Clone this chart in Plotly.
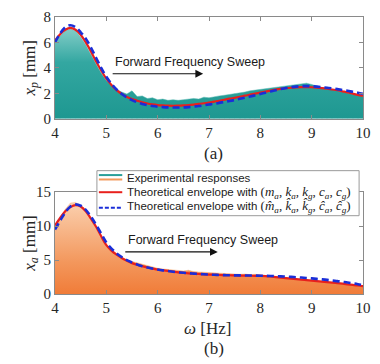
import plotly.graph_objects as go

freq = [round(4.0 + 0.1 * i, 1) for i in range(61)]

# (a) x_p [mm]
xp_exp = [6.0, 6.5, 6.9, 7.05, 6.9, 6.4, 5.8, 5.0, 4.3, 3.6,
          3.0, 2.6, 2.3, 2.1, 1.95, 2.2, 1.75, 1.8, 1.6, 1.65,
          1.5, 1.55, 1.45, 1.5, 1.45, 1.5, 1.55, 1.6, 1.55, 1.7,
          1.65, 1.75, 1.8, 1.85, 1.9, 2.0, 2.05, 2.1, 2.2, 2.25,
          2.3, 2.35, 2.4, 2.45, 2.5, 2.55, 2.6, 2.65, 2.75, 2.8,
          2.7, 2.55, 2.45, 2.4, 2.3, 2.25, 2.15, 2.05, 1.95, 1.85, 1.75]
xp_theo = [6.15, 6.65, 7.0, 7.15, 7.0, 6.6, 6.0, 5.3, 4.5, 3.8,
           3.15, 2.65, 2.25, 1.95, 1.72, 1.55, 1.42, 1.3, 1.2, 1.13,
           1.08, 1.05, 1.03, 1.02, 1.03, 1.05, 1.08, 1.12, 1.17, 1.22,
           1.28, 1.35, 1.42, 1.5, 1.58, 1.65, 1.73, 1.82, 1.9, 1.98,
           2.06, 2.14, 2.22, 2.29, 2.35, 2.4, 2.44, 2.47, 2.49, 2.49,
           2.48, 2.45, 2.41, 2.36, 2.3, 2.24, 2.16, 2.08, 1.98, 1.88, 1.79]
xp_theo_hat = [6.0, 6.7, 7.2, 7.35, 7.2, 6.8, 6.3, 5.6, 4.8, 4.0,
               3.3, 2.75, 2.3, 1.95, 1.68, 1.47, 1.3, 1.17, 1.07, 1.0,
               0.95, 0.92, 0.9, 0.89, 0.89, 0.9, 0.92, 0.96, 1.0, 1.06,
               1.12, 1.18, 1.25, 1.33, 1.4, 1.48, 1.57, 1.66, 1.75, 1.85,
               1.95, 2.05, 2.15, 2.25, 2.34, 2.42, 2.48, 2.53, 2.56, 2.57,
               2.56, 2.53, 2.49, 2.44, 2.39, 2.33, 2.26, 2.2, 2.12, 2.05, 1.97]

# (b) x_a [mm]
xa_exp = [9.8, 11.2, 12.5, 13.4, 13.5, 13.0, 12.1, 11.0, 9.7, 8.3,
          7.0, 6.3, 5.8, 5.4, 5.0, 4.8, 4.5, 4.3, 4.1, 4.0,
          3.8, 3.7, 3.6, 3.5, 3.45, 3.4, 3.5, 3.3, 3.25, 3.2,
          3.15, 3.1, 3.1, 3.0, 3.05, 2.95, 2.9, 2.95, 2.85, 2.9,
          2.8, 2.75, 2.65, 2.55, 2.45, 2.4, 2.3, 2.2, 2.15, 2.05,
          2.0, 1.9, 1.85, 1.75, 1.7, 1.6, 1.5, 1.45, 1.35, 1.25, 1.15]
xa_theo = [10.1, 11.2, 12.2, 12.8, 13.1, 12.9, 12.2, 11.1, 9.9, 8.5,
           7.2, 6.4, 5.8, 5.3, 4.9, 4.55, 4.3, 4.1, 3.9, 3.75,
           3.6, 3.5, 3.4, 3.3, 3.2, 3.12, 3.05, 3.0, 2.95, 2.9,
           2.86, 2.83, 2.8, 2.78, 2.76, 2.74, 2.72, 2.7, 2.69, 2.68,
           2.66, 2.63, 2.58, 2.5, 2.42, 2.35, 2.27, 2.2, 2.12, 2.05,
           1.98, 1.9, 1.83, 1.75, 1.68, 1.6, 1.52, 1.43, 1.34, 1.25, 1.15]
xa_theo_hat = [9.5, 10.8, 12.0, 12.9, 13.2, 13.0, 12.4, 11.4, 10.2, 8.9,
               7.6, 6.7, 6.0, 5.45, 5.0, 4.65, 4.35, 4.1, 3.9, 3.75,
               3.6, 3.48, 3.38, 3.28, 3.2, 3.12, 3.05, 3.0, 2.95, 2.9,
               2.86, 2.83, 2.8, 2.78, 2.76, 2.75, 2.74, 2.73, 2.72, 2.71,
               2.7, 2.68, 2.66, 2.63, 2.6, 2.56, 2.52, 2.47, 2.42, 2.36,
               2.3, 2.23, 2.16, 2.08, 1.98, 1.9, 1.8, 1.7, 1.58, 1.45, 1.3]

x_ticks = [4, 5, 6, 7, 8, 9, 10]
xp_ticks = [0, 2, 4, 6, 8]
xa_ticks = [0, 5, 10, 15]

W, H = 380, 364
L, R, T, B = 55, 9, 11, 70
PW, PH = W - L - R, H - T - B


def px(xp):
    return (xp - L) / PW


def py(yp):
    return (H - B - yp) / PH


fig = go.Figure()

RED = "#e8201c"
BLUE = "#1a2ed8"

# panel (a)
fig.add_trace(go.Scatter(x=freq, y=xp_exp, mode="lines", line=dict(width=0.5, color="#5cbab5"),
                         fill="tozeroy",
                         fillgradient=dict(type="vertical", start=0, stop=7.5,
                                           colorscale=[[0, "#1d9790"], [0.6, "#33a7a1"], [1, "#8fd2cd"]]),
                         xaxis="x", yaxis="y", showlegend=False))
fig.add_trace(go.Bar(x=freq, y=xp_exp, width=0.03, marker=dict(color="rgba(200,238,235,0.45)", line=dict(width=0)),
                     xaxis="x", yaxis="y", showlegend=False))
fig.add_trace(go.Scatter(x=freq, y=xp_theo, mode="lines", line=dict(color=RED, width=2.2, shape="spline"),
                         xaxis="x", yaxis="y", showlegend=False))
fig.add_trace(go.Scatter(x=freq, y=xp_theo_hat, mode="lines",
                         line=dict(color=BLUE, width=2.6, dash="7px,4px", shape="spline"),
                         xaxis="x", yaxis="y", showlegend=False))

# panel (b)
fig.add_trace(go.Scatter(x=freq, y=xa_exp, mode="lines", line=dict(width=0.5, color="#f6b889"),
                         fill="tozeroy",
                         fillgradient=dict(type="vertical", start=0, stop=14,
                                           colorscale=[[0, "#f07a36"], [0.35, "#f3975c"], [1, "#fbd3b3"]]),
                         xaxis="x2", yaxis="y2", showlegend=False))
fig.add_trace(go.Bar(x=freq, y=xa_exp, width=0.03, marker=dict(color="rgba(255,235,215,0.45)", line=dict(width=0)),
                     xaxis="x2", yaxis="y2", showlegend=False))
fig.add_trace(go.Scatter(x=freq, y=xa_theo, mode="lines", line=dict(color=RED, width=2.2, shape="spline"),
                         xaxis="x2", yaxis="y2", showlegend=False))
fig.add_trace(go.Scatter(x=freq, y=xa_theo_hat, mode="lines",
                         line=dict(color=BLUE, width=2.6, dash="7px,4px", shape="spline"),
                         xaxis="x2", yaxis="y2", showlegend=False))

serif = "Liberation Serif, Times New Roman, serif"
sans = "Liberation Sans, Arial, sans-serif"

axis_common = dict(showline=True, mirror="allticks", linecolor="#8a8a8a", linewidth=1,
                   ticks="inside", ticklen=4, tickcolor="#8a8a8a", showgrid=False, zeroline=False,
                   tickfont=dict(family=serif, size=15, color="#262626"))

top_dom = [(H - B - 115) / PH, 1]
bot_dom = [0, (H - B - 190) / PH]

fig.update_layout(
    width=W, height=H, margin=dict(l=L, r=R, t=T, b=B),
    paper_bgcolor="white", plot_bgcolor="white", barmode="overlay", bargap=0,
    xaxis=dict(range=[4, 10], tickvals=x_ticks, domain=[0, 1], anchor="y", **axis_common),
    yaxis=dict(range=[0, 8], tickvals=xp_ticks, domain=top_dom, anchor="x", **axis_common),
    xaxis2=dict(range=[4, 10], tickvals=x_ticks, domain=[0, 1], anchor="y2", **axis_common),
    yaxis2=dict(range=[0, 15], tickvals=xa_ticks, domain=bot_dom, anchor="x2", **axis_common),
)

ann = []


def label(text, x, y, size=17, angle=0):
    ann.append(dict(text=text, xref="paper", yref="paper", x=px(x), y=py(y), xanchor="center",
                    yanchor="middle", textangle=angle, showarrow=False,
                    font=dict(family=serif, size=size, color="#262626")))


label("<i>x</i><sub><i>p</i></sub> [mm]", 30, 63, angle=-90)
label("<i>x</i><sub><i>a</i></sub> [mm]", 30, 242, angle=-90)
label("(a)", 218, 150)
label("<i>ω</i> [Hz]", 211, 329)
label("(b)", 218, 350)

# Forward Frequency Sweep labels + arrows
for (tx, ty, ax0, ax1, ay) in [(114, 57, 115, 207, 69), (128, 239, 128, 222, 251)]:
    ann.append(dict(text="Forward Frequency Sweep", xref="paper", yref="paper", x=px(tx), y=py(ty),
                    xanchor="left", yanchor="middle", showarrow=False,
                    font=dict(family=sans, size=12.5, color="#1a1a1a")))
    ann.append(dict(text="", xref="paper", yref="paper", x=px(ax1), y=py(ay), ax=-(ax1 - ax0), ay=0,
                    axref="pixel", ayref="pixel", showarrow=True, arrowhead=2, arrowsize=1.3,
                    arrowwidth=1.2, arrowcolor="#111111"))

# manual legend
shapes = []
shapes.append(dict(type="rect", xref="paper", yref="paper", x0=px(98), x1=px(367), y0=py(214), y1=py(168),
                   line=dict(color="#9a9a9a", width=1), fillcolor="white", layer="above"))
shapes.append(dict(type="line", xref="paper", yref="paper", x0=px(100), x1=px(124), y0=py(172.5), y1=py(172.5),
                   line=dict(color="#2a9f99", width=2), layer="above"))
shapes.append(dict(type="line", xref="paper", yref="paper", x0=px(100), x1=px(124), y0=py(177), y1=py(177),
                   line=dict(color="#f39a5c", width=2), layer="above"))
shapes.append(dict(type="line", xref="paper", yref="paper", x0=px(100), x1=px(124), y0=py(190), y1=py(190),
                   line=dict(color=RED, width=2), layer="above"))
shapes.append(dict(type="line", xref="paper", yref="paper", x0=px(100), x1=px(124), y0=py(206), y1=py(206),
                   line=dict(color=BLUE, width=2, dash="4px,2px"), layer="above"))

mstyle = "font-family:Liberation Serif;font-size:13px"
math1 = (f"<span style='{mstyle}'>(<i>m</i><sub><i>a</i></sub>, <i>k</i><sub><i>a</i></sub>, "
         "<i>k</i><sub><i>g</i></sub>, <i>c</i><sub><i>a</i></sub>, <i>c</i><sub><i>g</i></sub>)</span>")
math2 = (f"<span style='{mstyle}'>(<i>m\u0302</i><sub><i>a</i></sub>, <i>k\u0302</i><sub><i>a</i></sub>, "
         "<i>k\u0302</i><sub><i>g</i></sub>, <i>c\u0302</i><sub><i>a</i></sub>, <i>c\u0302</i><sub><i>g</i></sub>)</span>")
for txt, yy in [("Experimental responses", 175), ("Theoretical envelope with " + math1, 190),
                ("Theoretical envelope with " + math2, 205)]:
    ann.append(dict(text=txt, xref="paper", yref="paper", x=px(127), y=py(yy), xanchor="left",
                    yanchor="middle", showarrow=False, font=dict(family=sans, size=11.5, color="#1a1a1a")))

fig.update_layout(annotations=ann, shapes=shapes)
fig.write_html("out.html", config={"displayModeBar": False},
               post_script="document.body.style.margin='0px';document.body.style.overflow='hidden';")
